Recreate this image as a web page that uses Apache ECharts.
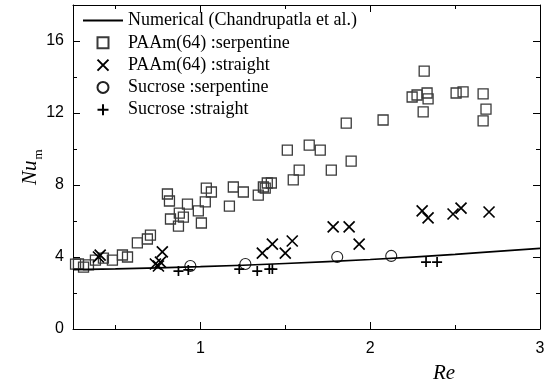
<!DOCTYPE html>
<html><head><meta charset="utf-8">
<script src="https://cdn.jsdelivr.net/npm/echarts@6.0.0/dist/echarts.min.js"></script>
<style>html,body{margin:0;padding:0;background:#fff}#c{width:549px;height:391px}</style>
</head><body><div id="c"></div><script>
// ---- data ----
const numericalRe = [0.25, 0.5, 1.0, 1.5, 2.0, 2.5, 3.0];
const numericalNu = [3.30, 3.34, 3.46, 3.64, 3.86, 4.15, 4.48];

const paamSerpRe = [0.265,0.282,0.312,0.341,0.382,0.429,0.482,0.541,0.571,0.629,0.688,0.706,0.806,0.818,0.924,0.876,0.824,0.871,0.900,0.988,1.006,1.029,1.035,1.065,1.171,1.194,1.253,1.341,1.371,1.394,1.418,1.382,1.547,1.582,1.512,1.641,1.706,1.771,1.888,1.859,2.076,2.247,2.276,2.318,2.335,2.341,2.312,2.506,2.547,2.665,2.682,2.665];
const paamSerpNu = [3.60,3.61,3.44,3.56,3.83,3.94,3.83,4.11,4.00,4.78,5.00,5.22,7.50,7.11,6.94,6.44,6.11,5.72,6.22,6.56,5.89,7.06,7.83,7.61,6.83,7.89,7.61,7.44,7.89,8.11,8.11,7.83,8.28,8.83,9.94,10.22,9.94,8.83,9.33,11.44,11.61,12.89,13.00,14.33,13.11,12.78,12.06,13.11,13.17,13.06,12.22,11.56];

const paamStrRe = [0.400,0.410,0.735,0.765,0.776,0.753,1.365,1.424,1.500,1.541,1.782,1.876,1.935,2.306,2.341,2.488,2.535,2.700];
const paamStrNu = [4.00,4.10,3.61,3.72,4.28,3.50,4.22,4.72,4.22,4.89,5.67,5.67,4.72,6.56,6.17,6.39,6.72,6.50];

const sucSerpRe = [0.941,1.265,1.806,2.124];
const sucSerpNu = [3.50,3.61,4.00,4.06];

const sucStrRe = [0.871,0.929,1.229,1.335,1.406,1.424,2.329,2.394];
const sucStrNu = [3.22,3.28,3.33,3.22,3.33,3.33,3.72,3.72];

const xMajor = [1, 2, 3];
const xMinor = [0.5, 1.5, 2.5];
const yMajor = [0, 4, 8, 12, 16];
const yMinor = [2, 6, 10, 14];

const names = ['Numerical (Chandrupatla et al.)','PAAm(64) :serpentine','PAAm(64) :straight','Sucrose :serpentine','Sucrose :straight'];

const zip = (a, b) => a.map((v, i) => [v, b[i]]);

const X_MIN = 0.25, X_MAX = 3, Y_MIN = 0, Y_MAX = 18;
const blk = '#000';
const sans = 'Arial, "Liberation Sans", sans-serif';
const serif = '"Times New Roman", "Liberation Serif", serif';
function xAx(pos, vals, len, main) {
  return {
    type: 'value', position: pos, min: X_MIN, max: X_MAX,
    axisLine: { show: main, onZero: false, lineStyle: { color: blk, width: 1 } },
    splitLine: { show: false },
    axisTick: { show: true, inside: true, length: len, customValues: vals, lineStyle: { color: blk, width: 1 } },
    axisLabel: (pos === 'bottom' && main) ? { show: true, customValues: vals, fontSize: 16, fontFamily: sans, color: blk, margin: 12 } : { show: false }
  };
}
function yAx(pos, vals, len, main) {
  return {
    type: 'value', position: pos, min: Y_MIN, max: Y_MAX,
    axisLine: { show: main, onZero: false, lineStyle: { color: blk, width: 1 } },
    splitLine: { show: false },
    axisTick: { show: true, inside: true, length: len, customValues: vals, lineStyle: { color: blk, width: 1 } },
    axisLabel: (pos === 'left' && main) ? { show: true, customValues: vals, fontSize: 16, fontFamily: sans, color: blk, margin: 9 } : { show: false }
  };
}

const yAxes = [yAx('left', yMajor, 7, true), yAx('left', yMinor, 4, false), yAx('right', yMajor, 7, true), yAx('right', yMinor, 4, false)];
yAxes[0].nameLocation = 'middle';
yAxes[0].nameRotate = 90;
yAxes[0].nameGap = 28;
yAxes[0].nameMoveOverlap = false;
yAxes[0].nameTextStyle = {
  rich: {
    a: { fontFamily: serif, fontStyle: 'italic', fontSize: 21, color: blk, lineHeight: 21, verticalAlign: 'top' },
    b: { fontFamily: serif, fontSize: 13, color: blk, lineHeight: 13, verticalAlign: 'bottom', padding: [0, 0, 0, 1] },
    s: { lineHeight: 25, fontSize: 1 }
  }
};
yAxes[0].name = '{a|Nu}{b|m}{s| }';

const rectPath = 'path://M0,0L10,0L10,10L0,10Z';
const xPath = 'path://M0,0L10,10M10,0L0,10';
const plusPath = 'path://M5,0L5,10M0,5L10,5';

const option = {
  animation: false,
  backgroundColor: '#fff',
  grid: { left: 73, right: 9, top: 5, bottom: 62, containLabel: false },
  xAxis: [xAx('bottom', xMajor, 7, true), xAx('bottom', xMinor, 4, false), xAx('top', xMajor, 7, true), xAx('top', xMinor, 4, false)],
  yAxis: yAxes,
  legend: {
    orient: 'vertical', left: 82, top: 11.5, padding: 0, itemWidth: 40, itemHeight: 11, itemGap: 4.3,
    textStyle: { fontFamily: serif, fontSize: 18, color: blk },
    data: [
      { name: names[0], itemStyle: { color: 'rgba(0,0,0,0)', borderWidth: 0, opacity: 0 } },
      { name: names[1] },
      { name: names[2] },
      { name: names[3] },
      { name: names[4] }
    ]
  },
  graphic: [{
    type: 'text', left: 433, top: 363,
    style: { text: 'Re', fontFamily: serif, fontStyle: 'italic', fontSize: 21, fill: blk }
  }],
  series: [
    { name: names[0], type: 'line', data: zip(numericalRe, numericalNu), smooth: 0.4, symbol: 'none', showSymbol: false,
      lineStyle: { color: blk, width: 1.7 }, itemStyle: { color: blk }, z: 5 },
    { name: names[1], type: 'scatter', data: zip(paamSerpRe, paamSerpNu), symbol: rectPath, symbolSize: 10,
      itemStyle: { color: 'rgba(0,0,0,0)', borderColor: '#3a3a3a', borderWidth: 1.3, opacity: 1 } },
    { name: names[2], type: 'scatter', data: zip(paamStrRe, paamStrNu), symbol: xPath, symbolSize: 11,
      itemStyle: { color: 'rgba(0,0,0,0)', borderColor: blk, borderWidth: 1.7, opacity: 1 } },
    { name: names[3], type: 'scatter', data: zip(sucSerpRe, sucSerpNu), symbol: 'circle', symbolSize: 11,
      itemStyle: { color: 'rgba(0,0,0,0)', borderColor: '#222', borderWidth: 1.1, opacity: 1 } },
    { name: names[4], type: 'scatter', data: zip(sucStrRe, sucStrNu), symbol: plusPath, symbolSize: 10,
      itemStyle: { color: 'rgba(0,0,0,0)', borderColor: blk, borderWidth: 1.7, opacity: 1 } }
  ]
};
const chart = echarts.init(document.getElementById('c'), null, { renderer: 'canvas' });
chart.setOption(option);
</script></body></html>
